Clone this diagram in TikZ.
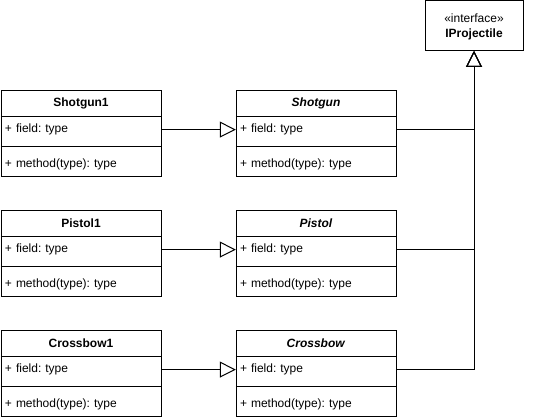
\documentclass[tikz,border=0pt]{standalone}
\usepackage{fontspec}
\setmainfont{Liberation Sans}
\usetikzlibrary{arrows.meta}
\frenchspacing
\tikzset{
  clsbox/.style={draw, line width=1pt, minimum width=160pt, minimum height=86pt, inner sep=0pt},
  clstitle/.style={minimum width=160pt, minimum height=26pt, inner sep=0pt, align=center},
  clsrow/.style={minimum width=160pt, minimum height=26pt, inner ysep=0pt, inner xsep=4pt, text width=152pt, align=left},
  clsline/.style={line width=1pt},
  ifbox/.style={draw, line width=1pt, minimum width=98pt, minimum height=50pt, inner sep=0pt, align=center, font=\fontsize{12}{15}\selectfont},
  inh/.style={line width=1pt, -{Triangle[open, length=16pt, width=16pt, line width=1pt]}}
}
\newcommand{\umlclassbox}[3]{%
  \node[clsbox, anchor=north west] (#1) at (#2) {};
  \node[clstitle, anchor=north] (#1t) at (#1.north) {#3};
  \node[clsrow, anchor=north] (#1f) at (#1t.south) {+ field: type};
  \node[clsrow, anchor=north, yshift=-8pt] (#1m) at (#1f.south) {+ method(type): type};
  \draw[clsline] (#1t.south west) -- (#1t.south east);
  \draw[clsline] ([yshift=-4pt]#1f.south west) -- ([yshift=-4pt]#1f.south east);
}
\begin{document}
\begin{tikzpicture}[x=1pt, y=-1pt, font=\fontsize{12}{14}\selectfont]
\useasboundingbox (0,0) rectangle (536,420);
\node[ifbox] (ip) at (474,25.5) {};
\node[align=center, inner sep=0pt, font=\fontsize{12}{15}\selectfont] (iptxt) at (474,27) {«interface»\\\textbf{IProjectile}};
\umlclassbox{sga}{0.5,90}{\textbf{Shotgun1}}
\umlclassbox{sgb}{235.5,90}{\textbf{\itshape Shotgun}}
\umlclassbox{pta}{0.5,210}{\textbf{Pistol1}}
\umlclassbox{ptb}{235.5,210}{\textbf{\itshape Pistol}}
\umlclassbox{cba}{0.5,330}{\textbf{Crossbow1}}
\umlclassbox{cbb}{235.5,330}{\textbf{\itshape Crossbow}}
\draw[inh] (sgaf.east) -- (sgbf.west);
\draw[inh] (ptaf.east) -- (ptbf.west);
\draw[inh] (cbaf.east) -- (cbbf.west);
\draw[inh] (sgbf.east) -| (ip.south);
\draw[inh] (ptbf.east) -| (ip.south);
\draw[inh] (cbbf.east) -| (ip.south);
\end{tikzpicture}
\end{document}
